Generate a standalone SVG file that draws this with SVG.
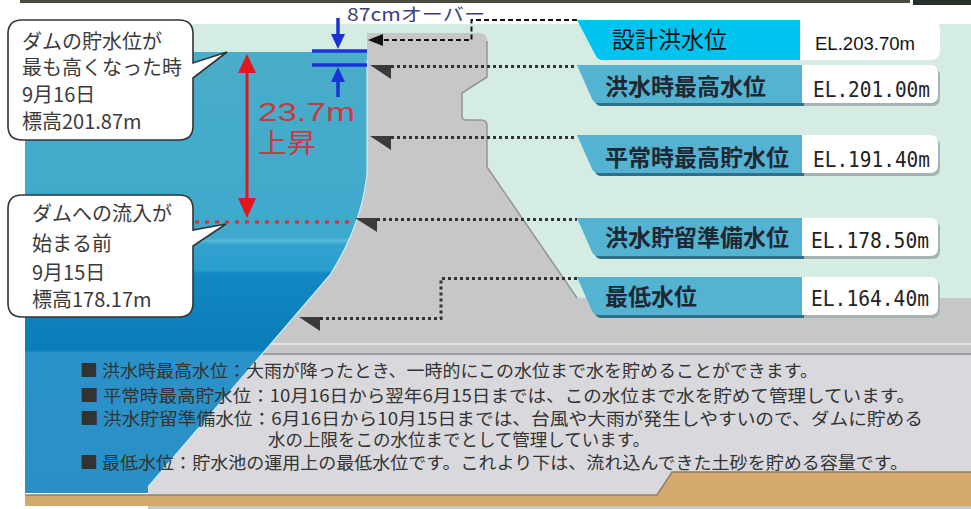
<svg xmlns="http://www.w3.org/2000/svg" width="971" height="509" viewBox="0 0 971 509">
  <defs>
    <linearGradient id="waterGrad" gradientUnits="userSpaceOnUse" x1="0" y1="52" x2="0" y2="493">
      <stop offset="0" stop-color="#4aadc9"/>
      <stop offset="0.42" stop-color="#3ea9cc"/>
      <stop offset="0.428" stop-color="#5ab8d6"/>
      <stop offset="0.437" stop-color="#33a2cf"/>
      <stop offset="0.495" stop-color="#2a9dcd"/>
      <stop offset="0.502" stop-color="#1388c3"/>
      <stop offset="0.66" stop-color="#0b7db8"/>
      <stop offset="0.676" stop-color="#0b7db8"/>
      <stop offset="0.682" stop-color="#2b92c9"/>
      <stop offset="1" stop-color="#2a90c6"/>
    </linearGradient>
    <style>
      .jp{font-family:"Noto Sans CJK JP","Noto Sans",sans-serif}
      .callout-box{fill:#fff;stroke:#333;stroke-width:1.6}
      .callout-text{font-size:20px;fill:#3a3a3a}
      .dot{fill:none;stroke:#333;stroke-width:3;stroke-dasharray:3 3}
      .flag{fill:#3a3a3a}
      .lvl-blue{fill:#55b3d2}
      .lvl-shadow{fill:#2f6f88}
      .el-box{fill:#fff}
      .el-shadow{fill:#a4b3b3}
      .lvl-name{font-size:23px;fill:#1d2833;font-weight:700}
      .el-val{font-family:"DejaVu Sans Mono","Liberation Mono",monospace;font-size:22px;fill:#222}
      .note{font-size:17.5px;fill:#333}
      .blue-mark{stroke:#1a33d6;stroke-width:3.5;fill:none}
    </style>
  </defs>

  <!-- background -->
  <rect width="971" height="509" fill="#fff"/>
  <rect x="20" y="0" width="890" height="3" fill="#4a4a40"/>
  <rect x="913" y="0" width="58" height="5" fill="#27312a"/>
  <rect x="25" y="24" width="946" height="276" fill="#d5ece3"/>

  <!-- dam body and ground -->
  <path d="M367,33 L479,33 Q487,33 487,41 L487,77 L462,93 L462,116 Q462,120 466,120 L481,120 Q487,120 487,126 L487,167 L577,298 L971,298 L971,509 L148,509 L148,487 L330,275 C352,240 364,205 367,173 Z" fill="#c7c7c8"/>
  <path d="M487,41 L487,77 L462,93 L462,116 Q462,120 466,120 L481,120 Q487,120 487,126 L487,167 L577,298" fill="none" stroke="#949494" stroke-width="1.5"/>
  <line x1="271" y1="344" x2="971" y2="344" stroke="#e2e2e2" stroke-width="2"/>
  <!-- explanation panel -->
  <path d="M261,355 L971,355 L971,495 L148,495 L148,487 Z" fill="#d9d9dd"/>
  <line x1="262" y1="354" x2="971" y2="354" stroke="#9c9c9e" stroke-width="2"/>

  <!-- reservoir water -->
  <path d="M25,52 L367,52 L367,173 C364,205 352,240 330,275 L148,487 L148,493 L25,493 Z" fill="url(#waterGrad)"/>
  <path d="M367,60 L367,173 C364,205 352,240 330,275 L148,487" fill="none" stroke="#c6ecf4" stroke-width="1.2"/>

  <!-- foundation -->
  <path d="M25,495 L657,495 L672,472 L971,472 L971,506 L25,506 Z" fill="#d5a86c"/>
  <path d="M25,495 L657,495 L672,472 L971,472" fill="none" stroke="#8c8070" stroke-width="1.5"/>

  <!-- callouts -->
  <g id="callout-peak">
    <path class="callout-box" d="M22,20 L179,20 Q193,20 193,34 L193,63 L227,52 L193,78 L193,126 Q193,140 179,140 L22,140 Q8,140 8,126 L8,34 Q8,20 22,20 Z"/>
    <text class="jp callout-text" x="22" y="49">ダムの貯水位が</text>
    <text class="jp callout-text" x="22" y="75">最も高くなった時</text>
    <text class="jp callout-text" x="22" y="102">9月16日</text>
    <text class="jp callout-text" x="22" y="129">標高201.87m</text>
  </g>
  <g id="callout-start">
    <path class="callout-box" d="M22,195 L179,195 Q193,195 193,209 L193,230 L226,224 L193,246 L193,303 Q193,317 179,317 L22,317 Q8,317 8,303 L8,209 Q8,195 22,195 Z"/>
    <text class="jp callout-text" x="32" y="221">ダムへの流入が</text>
    <text class="jp callout-text" x="32" y="251">始まる前</text>
    <text class="jp callout-text" x="32" y="280">9月15日</text>
    <text class="jp callout-text" x="32" y="307">標高178.17m</text>
  </g>

  <!-- connectors -->
  <g id="connectors">
    <!-- design flood level pointer -->
    <path d="M577,20 L471.5,20 L471.5,40 L383,40" fill="none" stroke="#111" stroke-width="2" stroke-dasharray="5 3"/>
    <path d="M368,40 L383,34 L383,46 Z" fill="#111"/>
    <!-- level leaders -->
    <line class="dot" x1="391" y1="66.5" x2="577" y2="66.5"/>
    <path class="flag" d="M370,65 L391,65 L391,79 Z"/>
    <line class="dot" x1="391" y1="137.5" x2="577" y2="137.5"/>
    <path class="flag" d="M370,136 L391,136 L391,150 Z"/>
    <line class="dot" x1="377" y1="219.5" x2="577" y2="219.5"/>
    <path class="flag" d="M355,218 L377,218 L377,232 Z"/>
    <path class="dot" d="M577,278.5 L441,278.5 L441,318.5 L320,318.5"/>
    <path class="flag" d="M299,317 L320,317 L320,331 Z"/>
    <!-- rise of water level -->
    <line x1="195" y1="222" x2="352" y2="222" stroke="#d3303c" stroke-width="3" stroke-dasharray="4 6"/>
    <line x1="247" y1="68" x2="247" y2="204" stroke="#e3161e" stroke-width="3"/>
    <path d="M247,54 L256,73 L238,73 Z" fill="#e3161e"/>
    <path d="M247,218 L256,198 L238,198 Z" fill="#e3161e"/>
    <!-- 87cm over marks -->
    <line class="blue-mark" x1="312" y1="51" x2="367" y2="51"/>
    <line class="blue-mark" x1="312" y1="65" x2="367" y2="65"/>
    <line class="blue-mark" x1="338" y1="18" x2="338" y2="36"/>
    <path d="M338,49 L345,34 L331,34 Z" fill="#1a33d6"/>
    <line class="blue-mark" x1="338" y1="80" x2="338" y2="97"/>
    <path d="M338,67 L345,82 L331,82 Z" fill="#1a33d6"/>
  </g>

  <g id="rise-label">
    <text x="258" y="121" font-family="Liberation Sans, Arial, sans-serif" font-size="26" fill="#c63a42" textLength="97" lengthAdjust="spacingAndGlyphs">23.7m</text>
    <text class="jp" x="258" y="153" font-size="27" fill="#c63a42" textLength="58" lengthAdjust="spacingAndGlyphs">上昇</text>
  </g>
  <g id="over-label">
    <text class="jp" x="347" y="21" font-size="18" fill="#3d3f7a" textLength="138" lengthAdjust="spacingAndGlyphs">87cmオーバー</text>
  </g>

  <!-- level labels -->
  <g id="level-design">
    <path d="M577,20 L800,20 L800,60 L603,60 Q598,60 596,56 Z" fill="#00c4f0"/>
    <path d="M800,20 L930,20 Q940,20 940,30 L940,50 Q940,60 930,60 L800,60 Z" fill="#fff"/>
    <text class="jp" x="612" y="48" font-size="23" fill="#111">設計洪水位</text>
    <text x="815" y="50" font-family="Liberation Sans, Arial, sans-serif" font-size="18" fill="#111" textLength="100" lengthAdjust="spacingAndGlyphs">EL.203.70m</text>
  </g>
  <g id="level-flood-max">
    <path class="lvl-shadow" d="M580,68 L805,68 L805,106 L601,106 Q597,106 595,102 Z"/>
    <path class="lvl-blue" d="M577,65 L802,65 L802,103 L598,103 Q594,103 592,99 Z"/>
    <path class="el-shadow" d="M804,68 L932,68 Q940,68 940,76 L940,98 Q940,106 932,106 L804,106 Z"/>
    <path class="el-box" d="M802,65 L930,65 Q938,65 938,73 L938,95 Q938,103 930,103 L802,103 Z"/>
    <text class="jp lvl-name" x="605" y="95">洪水時最高水位</text>
    <text class="el-val" x="813" y="97" textLength="117" lengthAdjust="spacingAndGlyphs">EL.201.00m</text>
  </g>
  <g id="level-normal-max">
    <path class="lvl-shadow" d="M580,138 L805,138 L805,176 L601,176 Q597,176 595,172 Z"/>
    <path class="lvl-blue" d="M577,135 L802,135 L802,173 L598,173 Q594,173 592,169 Z"/>
    <path class="el-shadow" d="M804,138 L932,138 Q940,138 940,146 L940,168 Q940,176 932,176 L804,176 Z"/>
    <path class="el-box" d="M802,135 L930,135 Q938,135 938,143 L938,165 Q938,173 930,173 L802,173 Z"/>
    <text class="jp lvl-name" x="605" y="166">平常時最高貯水位</text>
    <text class="el-val" x="813" y="167" textLength="117" lengthAdjust="spacingAndGlyphs">EL.191.40m</text>
  </g>
  <g id="level-flood-standby">
    <path class="lvl-shadow" d="M580,221 L805,221 L805,259 L601,259 Q597,259 595,255 Z"/>
    <path class="lvl-blue" d="M577,218 L802,218 L802,256 L598,256 Q594,256 592,252 Z"/>
    <path class="el-shadow" d="M804,221 L932,221 Q940,221 940,229 L940,251 Q940,259 932,259 L804,259 Z"/>
    <path class="el-box" d="M802,218 L930,218 Q938,218 938,226 L938,248 Q938,256 930,256 L802,256 Z"/>
    <text class="jp lvl-name" x="605" y="246">洪水貯留準備水位</text>
    <text class="el-val" x="811" y="248" textLength="118" lengthAdjust="spacingAndGlyphs">EL.178.50m</text>
  </g>
  <g id="level-minimum">
    <path class="lvl-shadow" d="M580,280 L805,280 L805,318 L601,318 Q597,318 595,314 Z"/>
    <path class="lvl-blue" d="M577,277 L802,277 L802,315 L598,315 Q594,315 592,311 Z"/>
    <path class="el-shadow" d="M804,280 L932,280 Q940,280 940,288 L940,310 Q940,318 932,318 L804,318 Z"/>
    <path class="el-box" d="M802,277 L930,277 Q938,277 938,285 L938,307 Q938,315 930,315 L802,315 Z"/>
    <text class="jp lvl-name" x="605" y="305">最低水位</text>
    <text class="el-val" x="811" y="306" textLength="118" lengthAdjust="spacingAndGlyphs">EL.164.40m</text>
  </g>

  <!-- explanatory notes -->
  <g id="notes" class="jp note">
    <text x="80" y="377" textLength="738" lengthAdjust="spacingAndGlyphs">■ 洪水時最高水位：大雨が降ったとき、一時的にこの水位まで水を貯めることができます。</text>
    <text x="80" y="402" textLength="835" lengthAdjust="spacingAndGlyphs">■ 平常時最高貯水位：10月16日から翌年6月15日までは、この水位まで水を貯めて管理しています。</text>
    <text x="80" y="425" textLength="843" lengthAdjust="spacingAndGlyphs">■ 洪水貯留準備水位：6月16日から10月15日までは、台風や大雨が発生しやすいので、ダムに貯める</text>
    <text x="268" y="446" textLength="382" lengthAdjust="spacingAndGlyphs">水の上限をこの水位までとして管理しています。</text>
    <text x="80" y="469" textLength="828" lengthAdjust="spacingAndGlyphs">■ 最低水位：貯水池の運用上の最低水位です。これより下は、流れ込んできた土砂を貯める容量です。</text>
  </g>
</svg>
